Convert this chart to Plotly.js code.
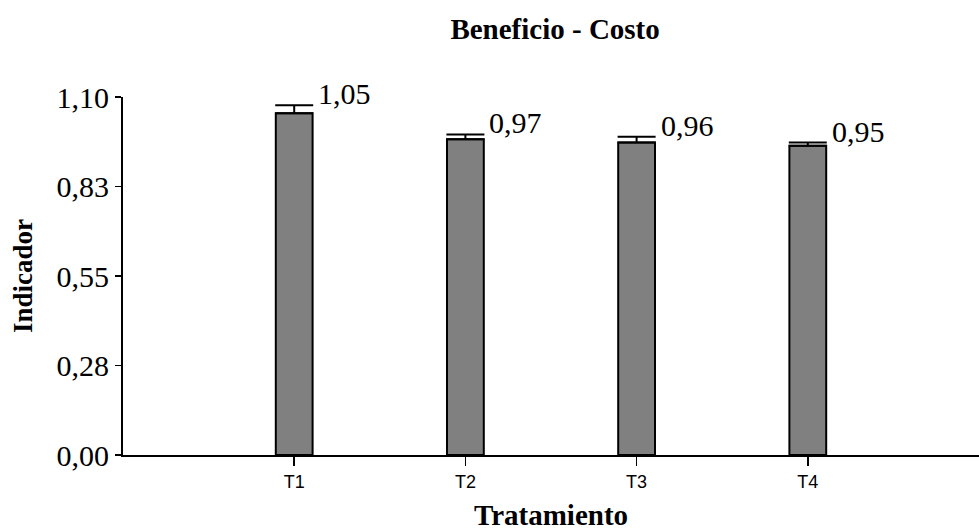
<!DOCTYPE html>
<html>
<head>
<meta charset="utf-8">
<script src="https://cdn.plot.ly/plotly-3.0.1.min.js"></script>
<style>html,body{margin:0;padding:0;background:#fff}</style>
</head>
<body>
<div id="chart" style="width:979px;height:531px"></div>
<script>
var categories = ["T1", "T2", "T3", "T4"];
var values = [1.05, 0.97, 0.96, 0.95];
var errors = [0.025, 0.015, 0.018, 0.010];
var valueLabels = ["1,05", "0,97", "0,96", "0,95"];
var yTickVals = [0, 0.275, 0.55, 0.825, 1.10];
var yTickText = ["0,00", "0,28", "0,55", "0,83", "1,10"];

var xIdx = categories.map(function(c, i){ return i; });

var trace = {
  type: "bar",
  x: xIdx,
  y: values,
  width: 0.215,
  marker: {color: "#808080", line: {color: "#000", width: 2}},
  error_y: {type: "data", array: errors, arrayminus: errors.map(function(){return 0;}),
            symmetric: false, color: "#000", thickness: 2, width: 19},
  hoverinfo: "none"
};

var annotations = xIdx.map(function(i){
  return {x: i, y: values[i] + errors[i], xref: "x", yref: "y", text: valueLabels[i],
    showarrow: false, xanchor: "left", yanchor: "bottom", xshift: 22, yshift: -7,
    font: {family: "Liberation Serif, Times New Roman, serif", size: 30, color: "#000"}};
});

var layout = {
  width: 979, height: 531,
  margin: {l: 123, r: 0, t: 97, b: 76},
  paper_bgcolor: "#fff", plot_bgcolor: "#fff",
  showlegend: false,
  title: {text: "<b>Beneficio - Costo</b>", x: 0.567, xanchor: "center", y: 0.946, yanchor: "middle",
          font: {family: "Liberation Serif, Times New Roman, serif", size: 29, color: "#000"}},
  xaxis: {
    range: [-1, 4], tickvals: xIdx, ticktext: categories,
    showline: true, linecolor: "#000", linewidth: 2, ticks: "outside", ticklen: 9, tickwidth: 1.5, tickcolor: "#000",
    showgrid: false, zeroline: false,
    tickfont: {family: "Liberation Sans, Arial, sans-serif", size: 18, color: "#000"},
    title: {text: "<b>Tratamiento</b>", standoff: 18,
            font: {family: "Liberation Serif, Times New Roman, serif", size: 29, color: "#000"}}
  },
  yaxis: {
    range: [0, 1.10], tickvals: yTickVals, ticktext: yTickText,
    showline: true, linecolor: "#000", linewidth: 2, ticks: "outside", ticklen: 6, tickwidth: 1.5, tickcolor: "#000",
    showgrid: false, zeroline: false,
    tickfont: {family: "Liberation Serif, Times New Roman, serif", size: 30, color: "#000"},
    title: {text: "<b>Indicador</b>", standoff: 16,
            font: {family: "Liberation Serif, Times New Roman, serif", size: 27, color: "#000"}}
  },
  annotations: annotations
};

Plotly.newPlot("chart", [trace], layout, {displayModeBar: false, staticPlot: true});
</script>
</body>
</html>
